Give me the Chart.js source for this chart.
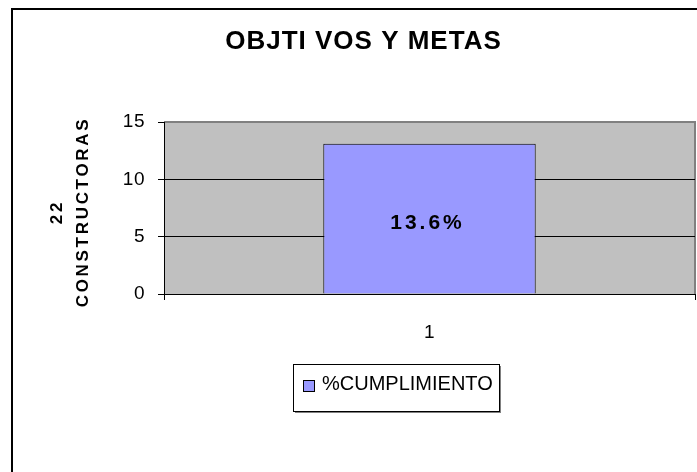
<!DOCTYPE html>
<html>
<head>
<meta charset="utf-8">
<title>Objtivos y metas</title>
<script src="https://cdn.jsdelivr.net/npm/chart.js@4.4.1/dist/chart.umd.min.js"></script>
<style>
  html, body { margin: 0; padding: 0; background: #fff; }
  canvas { display: block; }
</style>
</head>
<body>
<canvas id="chart" width="697" height="472"></canvas>
<script>
// Data
const categories = ['1'];
const cumplimiento = [13.1];
const pctLabels = ['13.6%'];
const yTicks = [0, 5, 10, 15];
const titleText = 'OBJTI VOS Y METAS';
const yTitle = ['22', 'CONSTRUCTORAS'];
const seriesName = '%CUMPLIMIENTO';

const FONT = '"Liberation Sans", Arial, sans-serif';
const BAR_FILL = '#9999ff';
const PLOT_BG = '#c0c0c0';

// run a draw call with a given canvas letter spacing
function spaced(ctx, px, fn) {
  const prev = ctx.letterSpacing;
  ctx.letterSpacing = px;
  fn();
  ctx.letterSpacing = prev;
}

const frame = {
  id: 'frame',
  beforeDraw(chart) {
    const { ctx, chartArea: a } = chart;
    ctx.letterSpacing = '0.5px';

    // title and axis title are drawn wider than the tick labels
    const tb = chart.titleBlock;
    if (tb && !tb._spaced) {
      const d = tb.draw.bind(tb);
      tb.draw = (area) => spaced(ctx, '1px', () => d(area));
      tb._spaced = true;
    }
    const ys = chart.scales.y;
    if (ys && !ys._spaced) {
      const d = ys.drawTitle.bind(ys);
      ys.drawTitle = () => spaced(ctx, '2.7px', () => {
        ctx.save();
        ctx.translate(0, 4);
        d();
        ctx.restore();
      });
      ys._spaced = true;
    }

    ctx.save();
    // outer frame
    ctx.fillStyle = '#000';
    ctx.fillRect(11, 8, 2, chart.height - 8);
    ctx.fillRect(11, 8, chart.width - 11, 2);
    // plot area
    ctx.fillStyle = PLOT_BG;
    ctx.fillRect(a.left, a.top, a.right - a.left, a.bottom - a.top);
    ctx.fillStyle = '#808080';
    ctx.fillRect(a.left, a.top - 1, a.right - a.left + 1, 2);
    ctx.fillRect(a.right - 1, a.top - 1, 2, a.bottom - a.top + 1);
    ctx.restore();
  },
  afterDatasetsDraw(chart) {
    const { ctx } = chart;
    const meta = chart.getDatasetMeta(0);
    meta.data.forEach((bar, i) => {
      ctx.save();
      ctx.letterSpacing = '3px';
      ctx.font = 'bold 21px ' + FONT;
      ctx.fillStyle = '#000';
      ctx.textAlign = 'center';
      ctx.textBaseline = 'middle';
      ctx.fillText(pctLabels[i], bar.x - 2, (bar.y + bar.base) / 2 + 5);
      ctx.restore();
    });
  },
  afterDraw(chart) {
    const { ctx } = chart;
    const ds = chart.data.datasets[0];
    const bx = 293, by = 364, bw = 206, bh = 47;
    ctx.save();
    ctx.letterSpacing = '0px';
    ctx.fillStyle = '#808080';
    ctx.fillRect(bx + 2, by + 2, bw, bh);
    ctx.fillStyle = '#fff';
    ctx.fillRect(bx, by, bw, bh);
    ctx.strokeStyle = '#000';
    ctx.lineWidth = 1;
    ctx.strokeRect(bx + 0.5, by + 0.5, bw, bh);
    // swatch
    ctx.fillStyle = ds.backgroundColor;
    ctx.fillRect(303.5, 380.5, 11, 11);
    ctx.strokeRect(303.5, 380.5, 11, 11);
    // label
    ctx.fillStyle = '#000';
    ctx.font = '20px ' + FONT;
    ctx.textAlign = 'left';
    ctx.textBaseline = 'middle';
    ctx.fillText(ds.label, 322, 384);
    ctx.restore();
    ctx.letterSpacing = '0px';
  }
};

new Chart(document.getElementById('chart'), {
  type: 'bar',
  data: {
    labels: categories,
    datasets: [{
      label: seriesName,
      data: cumplimiento,
      backgroundColor: BAR_FILL,
      borderColor: '#000',
      borderWidth: 1,
      barPercentage: 0.4,
      categoryPercentage: 1.0,
    }],
  },
  options: {
    responsive: false,
    animation: false,
    layout: { padding: { left: 32, right: 2, top: 0, bottom: 0 } },
    plugins: {
      legend: { display: false },
      tooltip: { enabled: false },
      title: {
        display: true,
        text: titleText,
        color: '#000',
        font: { family: FONT, size: 26, weight: 'bold', lineHeight: 1.2 },
        padding: { top: 26, bottom: 64.8 },
      },
    },
    scales: {
      x: {
        grid: { display: true, drawOnChartArea: false, offset: true, color: '#000', tickLength: 6 },
        border: { color: '#000', width: 1 },
        ticks: { color: '#000', padding: 21, font: { family: FONT, size: 19 } },
        afterFit: (s) => { s.height = 178; },
      },
      y: {
        min: yTicks[0],
        max: yTicks[yTicks.length - 1],
        afterBuildTicks: (s) => { s.ticks = yTicks.map(v => ({ value: v })); },
        grid: {
          color: (c) => (c.tick && c.tick.value === 15 ? '#808080' : '#000'),
          tickColor: '#000',
          tickLength: 6,
        },
        border: { color: '#000', width: 1 },
        ticks: { color: '#000', padding: 13, font: { family: FONT, size: 19 } },
        title: {
          display: true,
          text: yTitle,
          color: '#000',
          font: { family: FONT, size: 17, weight: 'bold', lineHeight: 1.53 },
          padding: { top: 12, bottom: 0 },
        },
        afterFit: (s) => { s.width = 132; },
      },
    },
  },
  plugins: [frame],
});
</script>
</body>
</html>
